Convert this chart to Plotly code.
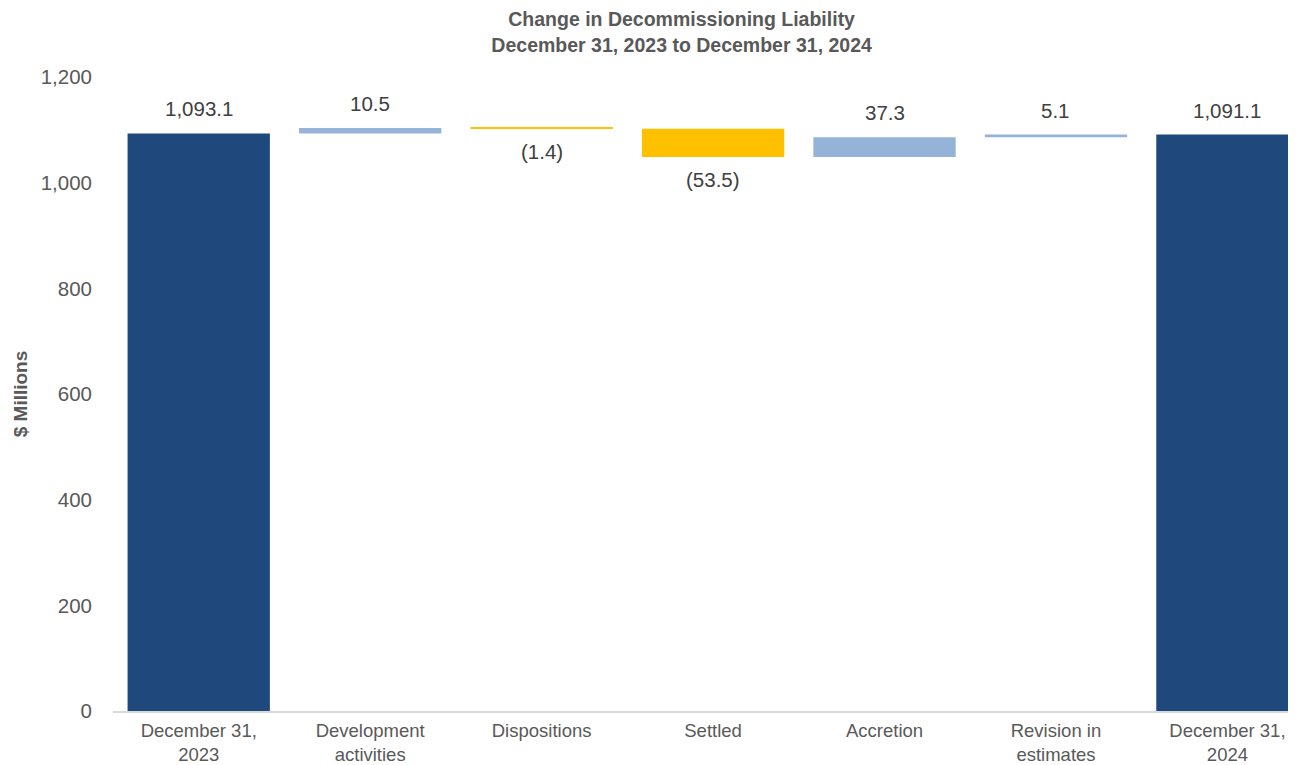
import plotly.graph_objects as go

categories = ["December 31,<br>2023", "Development<br>activities", "Dispositions",
              "Settled", "Accretion", "Revision in<br>estimates", "December 31,<br>2024"]
values = [1093.1, 10.5, -1.4, -53.5, 37.3, 5.1, 1091.1]
measures = ["absolute", "relative", "relative", "relative", "relative", "relative", "total"]
labels = ["1,093.1", "10.5", "(1.4)", "(53.5)", "37.3", "5.1", "1,091.1"]

fig = go.Figure(go.Waterfall(
    x=categories, y=values, measure=measures,
    increasing=dict(marker=dict(color="#95B3D7")),
    decreasing=dict(marker=dict(color="#FFC000")),
    totals=dict(marker=dict(color="#1F497D")),
    connector=dict(visible=False),
    width=0.83,
    hoverinfo="skip",
))

# data labels: above rising/total bars, below falling bars
running = 0.0
for cat, val, meas, lab in zip(categories, values, measures, labels):
    if meas == "absolute":
        running = val
        top, below = val, False
    elif meas == "total":
        top, below = running, False
    else:
        running = running + val
        top, below = running, val < 0
    fig.add_annotation(
        x=cat, y=top, text=lab, showarrow=False,
        yanchor="top" if below else "bottom",
        yshift=-9 if below else 11,
        font=dict(size=20.5, color="#404040", family="Liberation Sans, Arial"),
    )

fig.update_layout(
    width=1288, height=757,
    margin=dict(l=105, r=0, t=69, b=54, autoexpand=False),
    paper_bgcolor="white", plot_bgcolor="white",
    font=dict(family="Liberation Sans, Arial", color="#595959"),
    title=dict(text="<b>Change in Decommissioning Liability<br>December 31, 2023 to December 31, 2024</b>",
               x=0.523, xanchor="center", xref="container", y=0.976, yanchor="top",
               font=dict(size=19.5, color="#595959")),
    showlegend=False,
    xaxis=dict(range=[-0.5, 6.4], showline=True, linecolor="#D9D9D9", linewidth=1.5,
               automargin=False,
               ticks="", ticklabelstandoff=2, tickfont=dict(size=18.5, color="#595959")),
    yaxis=dict(range=[0, 1200], dtick=200, tickformat=",", showgrid=False, zeroline=False,
               automargin=False,
               tickfont=dict(size=20.5, color="#595959"), ticks="", ticklabelstandoff=20,
               title=dict(text="<b>$ Millions</b>", font=dict(size=19, color="#595959"), standoff=8)),
)

fig.write_html("out.html")
